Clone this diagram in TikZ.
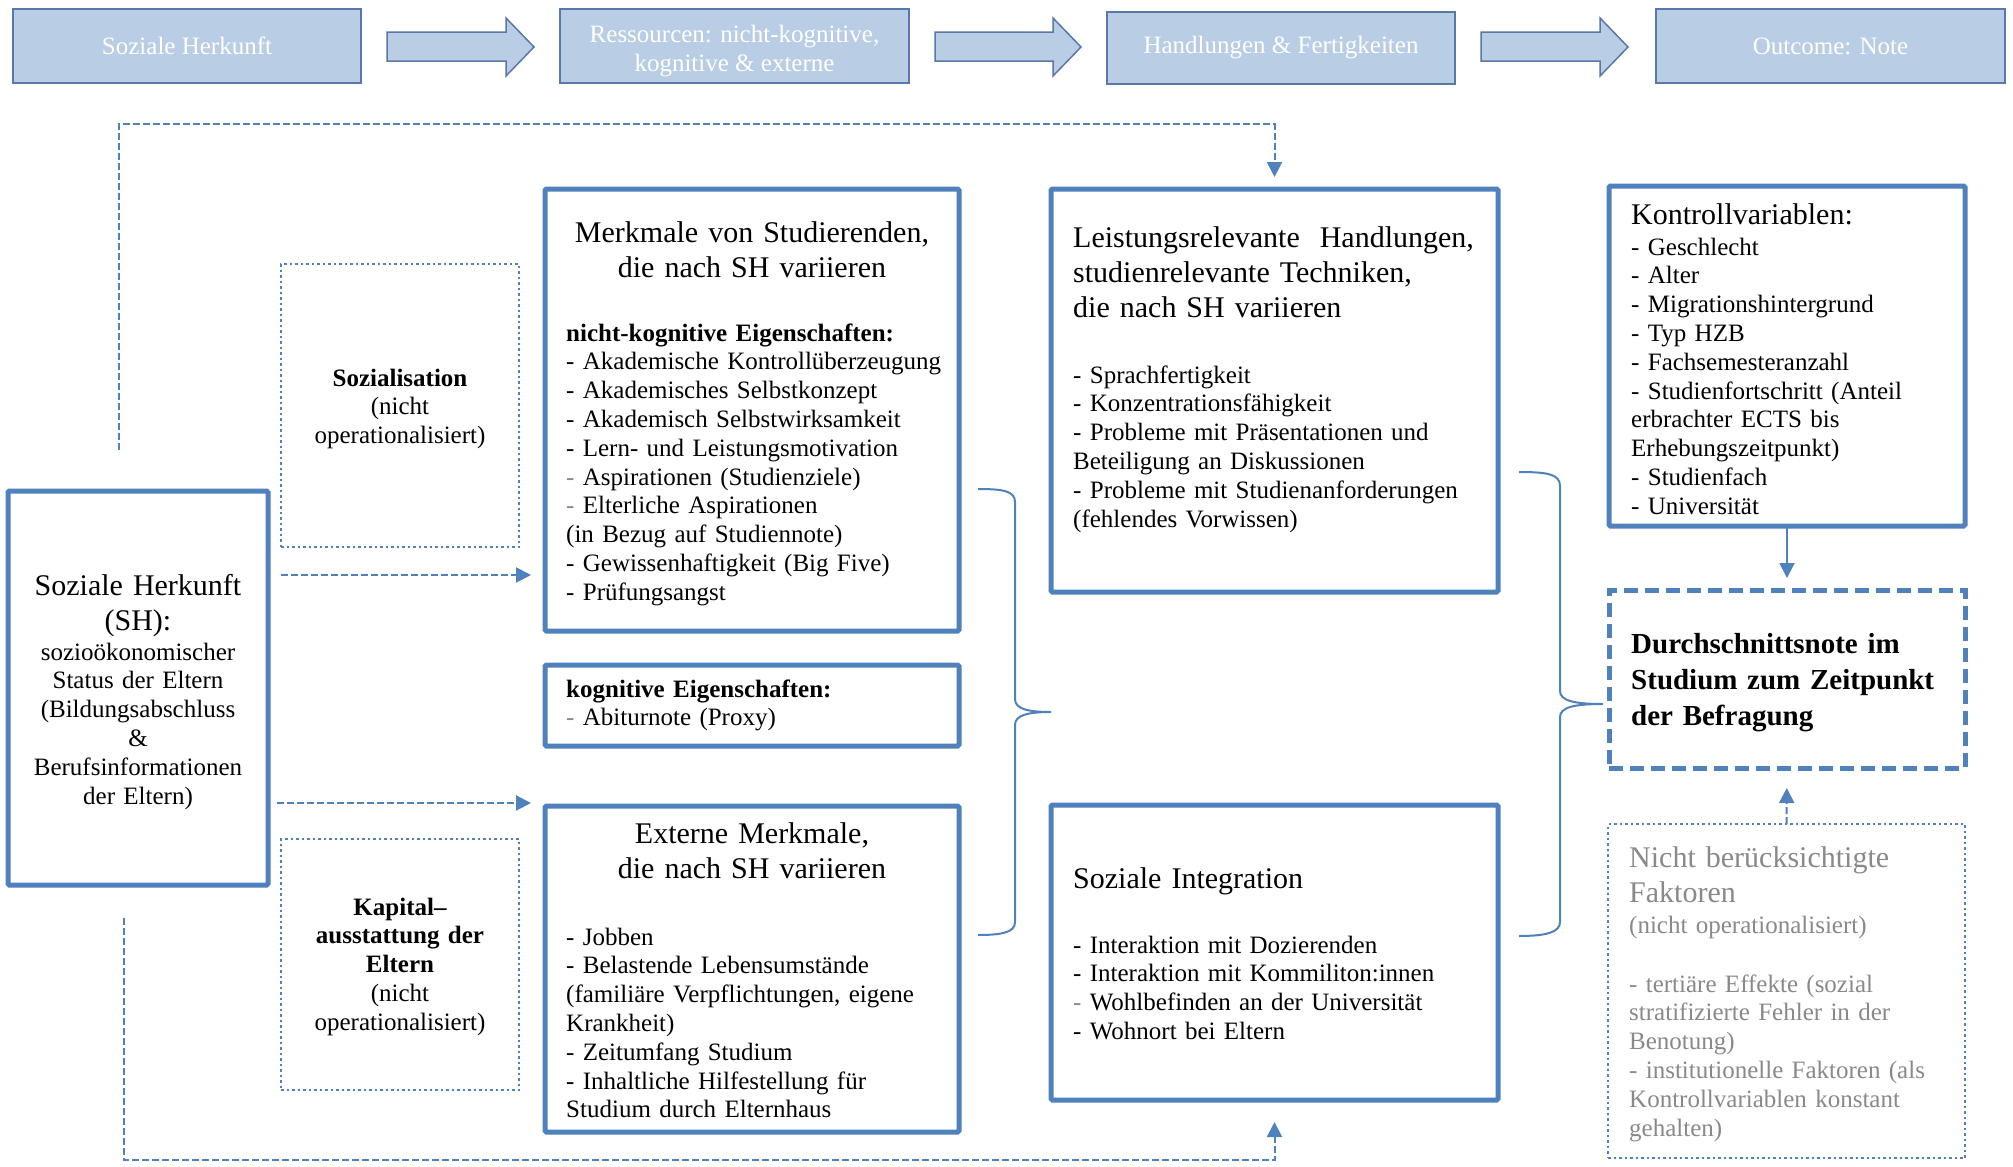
\documentclass[tikz,border=0pt]{standalone}
\usepackage{fontspec}
\setmainfont{Liberation Serif}
\usetikzlibrary{arrows.meta}
\definecolor{bm}{RGB}{79,129,189}
\definecolor{hfill}{RGB}{185,205,229}
\definecolor{hdraw}{RGB}{88,120,170}
\definecolor{gtx}{RGB}{137,137,137}
\newcommand\myfs[2]{\fontsize{#1}{#2}\selectfont}
\newcommand\gd{{\color{gtx}-}}
\newcommand\harrow[2]{\draw[harr] (#1,32) -- (#2-28,32) -- (#2-28,18) -- (#2,47) -- (#2-28,76) -- (#2-28,61) -- (#1,61) -- cycle;}
\tikzset{
  hbox/.style={rectangle, fill=hfill, draw=hdraw, line width=1.5pt, anchor=north west, inner sep=0pt, outer sep=0pt, text=white, font=\myfs{25}{29}, align=center},
  htext/.style={inner sep=0pt, text=white, font=\myfs{25}{29}, align=center},
  harr/.style={fill=hfill, draw=hdraw, line width=1.5pt, line join=miter},
  mainbox/.style={rectangle, draw=bm, line width=5pt, rounded corners=1.5pt, anchor=north west, inner sep=0pt, outer sep=0pt},
  dotbox/.style={rectangle, draw=bm, line width=2.5pt, dash pattern=on 2.5pt off 3pt, anchor=north west, inner sep=0pt, outer sep=0pt},
  dashbox/.style={rectangle, draw=bm, line width=5pt, dash pattern=on 14pt off 7pt, anchor=north west, inner sep=0pt, outer sep=0pt},
  ttl/.style={inner sep=0pt, font=\myfs{30}{35}},
  bdy/.style={inner sep=0pt, font=\myfs{25}{28.8}},
  lft/.style={anchor=base west, align=left, text width=440pt},
  ctr/.style={anchor=base, align=center, text width=400pt},
  dconn/.style={draw=bm, line width=2pt, dash pattern=on 7pt off 3pt},
  sconn/.style={draw=bm, line width=2pt},
  arr/.style={-{Triangle[length=15pt,width=15pt]}},
  brace/.style={draw=bm, line width=2pt},
}
\begin{document}
\begin{tikzpicture}[x=1pt,y=-1pt]
\useasboundingbox (0,0) rectangle (2013,1167);
\fill[white] (0,0) rectangle (2013,1167);

% header
\node[hbox, minimum width=348pt, minimum height=74pt] (h1) at (13,9) {Soziale Herkunft};
\node[hbox, minimum width=349pt, minimum height=74pt] (h2) at (560,9) {};
\node[htext] (h2t) at ([yshift=-5pt]h2.center) {Ressourcen: nicht-kognitive,\\kognitive \& externe};
\node[hbox, minimum width=348pt, minimum height=72pt] (h3) at (1107,12) {Handlungen \& Fertigkeiten};
\node[hbox, minimum width=349pt, minimum height=74pt] (h4) at (1656,9) {Outcome: Note};
\harrow{387}{534}
\harrow{935}{1081}
\harrow{1481}{1628}

% boxes
\node[mainbox, minimum width=260pt, minimum height=394pt] (sh) at (8,491) {};
\node[mainbox, minimum width=414pt, minimum height=442pt] (merk) at (545,189) {};
\node[mainbox, minimum width=414pt, minimum height=81pt] (kog) at (545,665) {};
\node[mainbox, minimum width=414pt, minimum height=326pt] (ext) at (545,806) {};
\node[mainbox, minimum width=447pt, minimum height=403pt] (lh) at (1051,189) {};
\node[mainbox, minimum width=447pt, minimum height=295pt] (si) at (1051,805) {};
\node[mainbox, minimum width=356pt, minimum height=340pt] (kv) at (1609,186) {};
\node[dashbox, minimum width=356pt, minimum height=178pt] (ds) at (1609,590) {};
\node[dotbox, minimum width=238pt, minimum height=283pt] (soz) at (281,264) {};
\node[dotbox, minimum width=238pt, minimum height=251pt] (kap) at (281,839) {};
\node[dotbox, minimum width=357pt, minimum height=334pt] (nb) at (1608,824) {};

% texts
\node[ttl, ctr] (shT) at (138,595) {Soziale Herkunft\\(SH):};
\node[bdy, ctr] (shB) at (138,660) {sozioökonomischer\\Status der Eltern\\(Bildungsabschluss\\\&\\Berufsinformationen\\der Eltern)};
\node[bdy, ctr] (sozT) at (400,386) {\textbf{Sozialisation}\\(nicht\\operationalisiert)};
\node[bdy, ctr] (kapT) at (400,915) {\textbf{Kapital–}\\\textbf{ausstattung der}\\\textbf{Eltern}\\(nicht\\operationalisiert)};
\node[ttl, ctr] (merkT) at (752,242) {Merkmale von Studierenden,\\die nach SH variieren};
\node[bdy, lft] (merkB) at (566,341) {\textbf{nicht-kognitive Eigenschaften:}\\- Akademische Kontrollüberzeugung\\- Akademisches Selbstkonzept\\- Akademisch Selbstwirksamkeit\\- Lern- und Leistungsmotivation\\\gd{} Aspirationen (Studienziele)\\\gd{} Elterliche Aspirationen\\(in Bezug auf Studiennote)\\- Gewissenhaftigkeit (Big Five)\\- Prüfungsangst};
\node[bdy, lft] (kogB) at (566,697) {\textbf{kognitive Eigenschaften:}\\\gd{} Abiturnote (Proxy)};
\node[ttl, ctr] (extT) at (752,843) {Externe Merkmale,\\die nach SH variieren};
\node[bdy, lft] (extB) at (566,945) {- Jobben\\- Belastende Lebensumstände\\(familiäre Verpflichtungen, eigene\\Krankheit)\\- Zeitumfang Studium\\- Inhaltliche Hilfestellung für\\Studium durch Elternhaus};
\node[ttl, lft] (lhT) at (1073,247) {Leistungsrelevante~ Handlungen,\\studienrelevante Techniken,\\die nach SH variieren};
\node[bdy, lft] (lhB) at (1073,383) {- Sprachfertigkeit\\- Konzentrationsfähigkeit\\- Probleme mit Präsentationen und\\Beteiligung an Diskussionen\\- Probleme mit Studienanforderungen\\(fehlendes Vorwissen)};
\node[ttl, lft] (siT) at (1073,888) {Soziale Integration};
\node[bdy, lft] (siB) at (1073,953) {- Interaktion mit Dozierenden\\- Interaktion mit Kommiliton:innen\\\gd{} Wohlbefinden an der Universität\\- Wohnort bei Eltern};
\node[ttl, lft] (kvT) at (1631,224) {Kontrollvariablen:};
\node[bdy, lft] (kvB) at (1631,255) {- Geschlecht\\- Alter\\- Migrationshintergrund\\- Typ HZB\\- Fachsemesteranzahl\\- Studienfortschritt (Anteil\\erbrachter ECTS bis\\Erhebungszeitpunkt)\\- Studienfach\\- Universität};
\node[inner sep=0pt, lft, font=\myfs{29}{36}\bfseries] (dsT) at (1631,653) {Durchschnittsnote im\\Studium zum Zeitpunkt\\der Befragung};
\node[ttl, lft, text=gtx] (nbT) at (1629,867) {Nicht berücksichtigte\\Faktoren};
\node[bdy, lft, text=gtx] (nbS) at (1629,933) {(nicht operationalisiert)};
\node[bdy, lft, text=gtx] (nbB) at (1629,992) {- tertiäre Effekte (sozial\\stratifizierte Fehler in der\\Benotung)\\- institutionelle Faktoren (als\\Kontrollvariablen konstant\\gehalten)};

% braces
\draw[brace] (978,489) .. controls (1003,489) and (1015,491) .. (1015,502) -- (1015,699) .. controls (1015,709) and (1028,712) .. (1051,712) .. controls (1028,712) and (1015,715) .. (1015,725) -- (1015,922) .. controls (1015,932) and (1003,935) .. (978,935);
\draw[brace] (1519,472) .. controls (1547,472) and (1560,474) .. (1560,486) -- (1560,691) .. controls (1560,701) and (1575,704) .. (1603,704) .. controls (1575,704) and (1560,707) .. (1560,717) -- (1560,922) .. controls (1560,932) and (1547,936) .. (1519,936);

% connectors
\coordinate (tstart) at (119,450);
\coordinate (tcorner) at (119,124);
\draw[dconn, arr, shorten >=12pt] (tstart) -- (tcorner) -| (lh.north);
\coordinate (a1) at (0,575);
\coordinate (a2) at (0,803);
\draw[dconn, arr, shorten <=13pt, shorten >=14pt] (sh.east |- a1) -- (merk.west |- a1);
\draw[dconn, arr, shorten <=9pt, shorten >=14pt] (sh.east |- a2) -- (ext.west |- a2);
\coordinate (bstart) at (124,918);
\coordinate (bcorner) at (124,1160);
\draw[dconn, arr, shorten >=22pt] (bstart) -- (bcorner) -| (si.south);
\draw[sconn, arr, shorten >=12pt] (kv.south) -- (ds.north);
\draw[dconn, arr, shorten >=20pt] (nb.north) -- (ds.south);
\end{tikzpicture}
\end{document}
